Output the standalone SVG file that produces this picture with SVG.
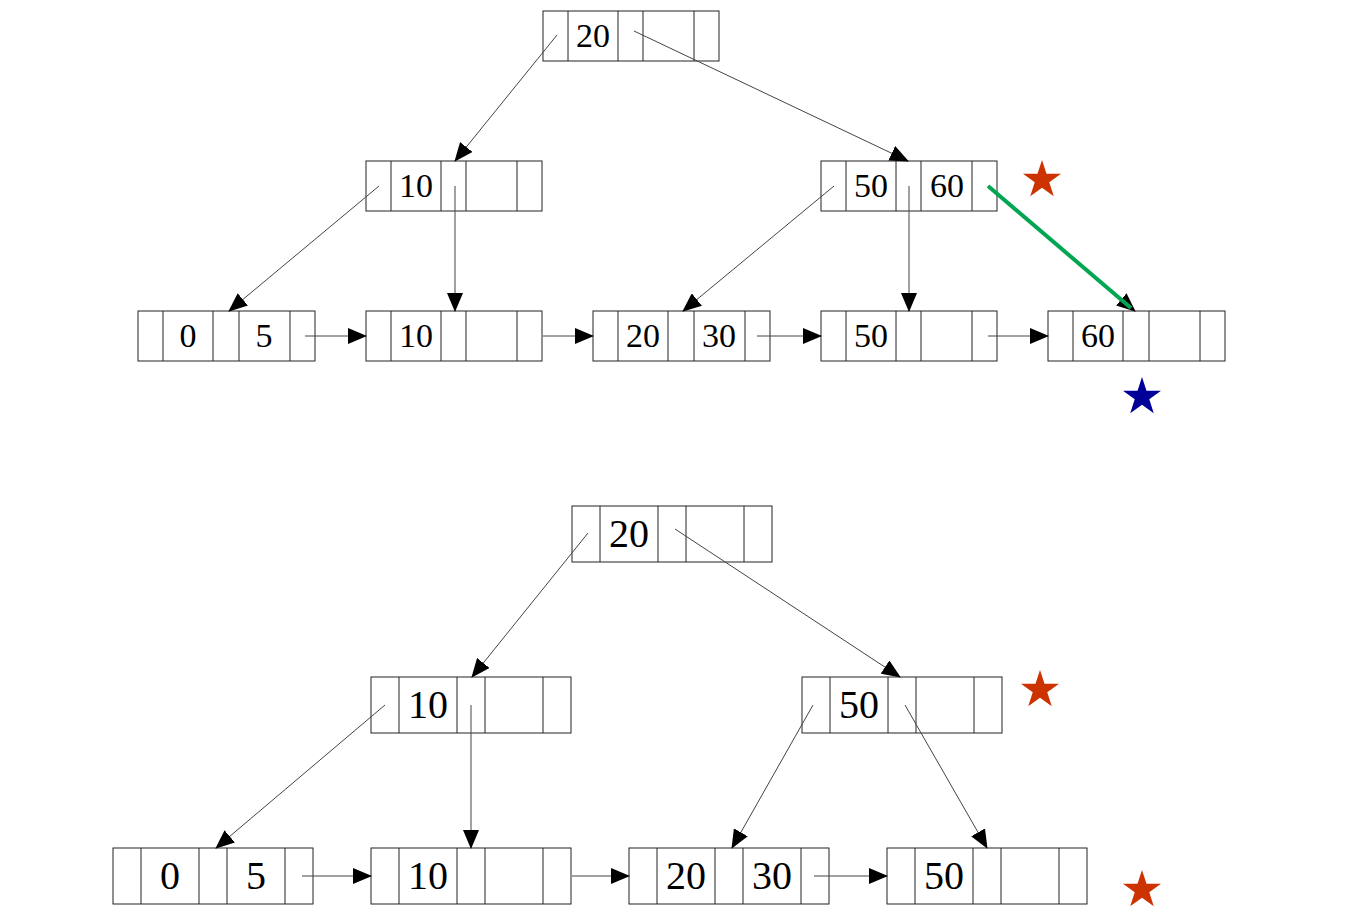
<svg xmlns="http://www.w3.org/2000/svg" xmlns:xlink="http://www.w3.org/1999/xlink" width="1360" height="920" viewBox="0 0 1360 920">
<style>
.box{fill:#fff;stroke:#222;stroke-width:1}
.div{fill:none;stroke:#222;stroke-width:1}
.k1{font-family:"Liberation Serif","Times New Roman",serif;font-size:34px;fill:#000;text-anchor:middle}
.k2{font-family:"Liberation Serif","Times New Roman",serif;font-size:40px;fill:#000;text-anchor:middle}
.edge{fill:none;stroke:#444;stroke-width:1;marker-end:url(#ah)}
.green{fill:none;stroke:#00a651;stroke-width:4}
</style>
<defs>
<marker id="ah" markerWidth="19" markerHeight="16" refX="18" refY="8" orient="auto" markerUnits="userSpaceOnUse">
<path d="M0,0 L19,8 L0,16 Z" fill="#000"/>
</marker>
<polygon id="star" points="0,-20 4.49,-6.18 19.02,-6.18 7.27,2.36 11.76,16.18 0,7.64 -11.76,16.18 -7.27,2.36 -19.02,-6.18 -4.49,-6.18"/>
</defs>
<rect width="1360" height="920" fill="#fff"/>

<!-- top tree nodes -->
<g id="t-root" transform="translate(543,11)"><rect class="box" width="176" height="50"/><path class="div" d="M25,0V50M75,0V50M100,0V50M151,0V50"/><text class="k1" x="50" y="36">20</text></g>
<g id="t-midL" transform="translate(366,161)"><rect class="box" width="176" height="50"/><path class="div" d="M25,0V50M75,0V50M100,0V50M151,0V50"/><text class="k1" x="50" y="36">10</text></g>
<g id="t-midR" transform="translate(821,161)"><rect class="box" width="176" height="50"/><path class="div" d="M25,0V50M75,0V50M100,0V50M151,0V50"/><text class="k1" x="50" y="36">50</text><text class="k1" x="126" y="36">60</text></g>
<g id="t-leaf1" transform="translate(138,311)"><rect class="box" width="177" height="50"/><path class="div" d="M25,0V50M75,0V50M101,0V50M152,0V50"/><text class="k1" x="50" y="36">0</text><text class="k1" x="126" y="36">5</text></g>
<g id="t-leaf2" transform="translate(366,311)"><rect class="box" width="176" height="50"/><path class="div" d="M25,0V50M75,0V50M100,0V50M151,0V50"/><text class="k1" x="50" y="36">10</text></g>
<g id="t-leaf3" transform="translate(593,311)"><rect class="box" width="177" height="50"/><path class="div" d="M25,0V50M75,0V50M101,0V50M152,0V50"/><text class="k1" x="50" y="36">20</text><text class="k1" x="126" y="36">30</text></g>
<g id="t-leaf4" transform="translate(821,311)"><rect class="box" width="176" height="50"/><path class="div" d="M25,0V50M75,0V50M100,0V50M151,0V50"/><text class="k1" x="50" y="36">50</text></g>
<g id="t-leaf5" transform="translate(1048,311)"><rect class="box" width="177" height="50"/><path class="div" d="M25,0V50M75,0V50M101,0V50M152,0V50"/><text class="k1" x="50" y="36">60</text></g>

<!-- bottom tree nodes -->
<g id="b-root" transform="translate(572,506)"><rect class="box" width="200" height="56"/><path class="div" d="M28,0V56M86,0V56M114,0V56M172,0V56"/><text class="k2" x="57" y="41">20</text></g>
<g id="b-midL" transform="translate(371,677)"><rect class="box" width="200" height="56"/><path class="div" d="M28,0V56M86,0V56M114,0V56M172,0V56"/><text class="k2" x="57" y="41">10</text></g>
<g id="b-midR" transform="translate(802,677)"><rect class="box" width="200" height="56"/><path class="div" d="M28,0V56M86,0V56M114,0V56M172,0V56"/><text class="k2" x="57" y="41">50</text></g>
<g id="b-leaf1" transform="translate(113,848)"><rect class="box" width="200" height="56"/><path class="div" d="M28,0V56M86,0V56M114,0V56M172,0V56"/><text class="k2" x="57" y="41">0</text><text class="k2" x="143" y="41">5</text></g>
<g id="b-leaf2" transform="translate(371,848)"><rect class="box" width="200" height="56"/><path class="div" d="M28,0V56M86,0V56M114,0V56M172,0V56"/><text class="k2" x="57" y="41">10</text></g>
<g id="b-leaf3" transform="translate(629,848)"><rect class="box" width="200" height="56"/><path class="div" d="M28,0V56M86,0V56M114,0V56M172,0V56"/><text class="k2" x="57" y="41">20</text><text class="k2" x="143" y="41">30</text></g>
<g id="b-leaf4" transform="translate(887,848)"><rect class="box" width="200" height="56"/><path class="div" d="M28,0V56M86,0V56M114,0V56M172,0V56"/><text class="k2" x="57" y="41">50</text></g>

<!-- connectors -->
<g id="connectors">
<line class="edge" x1="557" y1="35" x2="455" y2="161"/>
<line class="edge" x1="634" y1="31" x2="908" y2="161"/>
<line class="edge" x1="379" y1="186" x2="229" y2="311"/>
<line class="edge" x1="455" y1="186" x2="455" y2="311"/>
<line class="edge" x1="834" y1="186" x2="683" y2="311"/>
<line class="edge" x1="909" y1="186" x2="909" y2="311"/>
<line class="edge" x1="988" y1="186" x2="1135" y2="311"/>
<line class="green" x1="988" y1="186" x2="1131" y2="308"/>
<line class="edge" x1="305" y1="336" x2="366" y2="336"/>
<line class="edge" x1="543" y1="336" x2="593" y2="336"/>
<line class="edge" x1="757" y1="336" x2="821" y2="336"/>
<line class="edge" x1="988" y1="336" x2="1048" y2="336"/>

<line class="edge" x1="588" y1="533" x2="472" y2="677"/>
<line class="edge" x1="675" y1="529" x2="900" y2="677"/>
<line class="edge" x1="385" y1="705" x2="216" y2="848"/>
<line class="edge" x1="471" y1="705" x2="471" y2="848"/>
<line class="edge" x1="813" y1="705" x2="732" y2="848"/>
<line class="edge" x1="905" y1="705" x2="987" y2="848"/>
<line class="edge" x1="302" y1="876" x2="371" y2="876"/>
<line class="edge" x1="572" y1="876" x2="629" y2="876"/>
<line class="edge" x1="814" y1="876" x2="887" y2="876"/>
</g>

<!-- stars -->
<use href="#star" xlink:href="#star" x="1042" y="180" fill="#cc3300"/>
<use href="#star" xlink:href="#star" x="1142" y="397" fill="#000099"/>
<use href="#star" xlink:href="#star" x="1040" y="690" fill="#cc3300"/>
<use href="#star" xlink:href="#star" x="1142" y="890" fill="#cc3300"/>
</svg>
